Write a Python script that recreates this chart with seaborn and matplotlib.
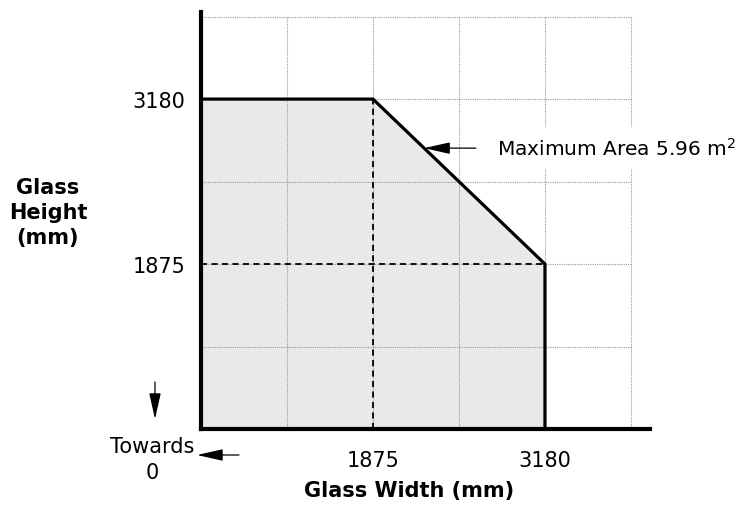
import numpy as np
import matplotlib
matplotlib.use("Agg")
import matplotlib.pyplot as plt
import seaborn as sns

# ---- data (mm) ----
axis_origin = 570.0          # schematic axis start ("towards 0")
grid_step = 652.5            # size of one grid cell in mm
grid_cells = 5
outline_width = [570, 1875, 3180, 3180]
outline_height = [3180, 3180, 1875, 570]
fill_width = [570, 570, 1875, 3180, 3180]
fill_height = [570, 3180, 3180, 1875, 570]
tick_values = [1875, 3180]
tick_labels = ["1875", "3180"]
max_area_label = "Maximum Area 5.96 m$^2$"
arrow_point = (2263, 2792)

sns.set_theme(style="white")
plt.rcParams["font.family"] = ["DejaVu Sans"]
plt.rcParams["text.color"] = "black"
plt.rcParams["axes.labelcolor"] = "black"

W, H = 744, 510
fig = plt.figure(figsize=(W / 100, H / 100), dpi=100)
ax = fig.add_axes([201 / W, 80 / H, 449 / W, 417 / H])
ax.set_facecolor("white")

grid_end = axis_origin + grid_step * grid_cells
ax.set_xlim(axis_origin, 3977)
ax.set_ylim(axis_origin, 3869)

# filled region
ax.fill(fill_width, fill_height, color="#e9e9e9", zorder=1, lw=0)

# grid (dotted)
gl = np.arange(1, grid_cells + 1) * grid_step + axis_origin
ax.vlines(gl, axis_origin, grid_end, colors="#999999", linestyles=(0, (1, 1)), lw=0.8, zorder=2)
ax.hlines(gl, axis_origin, grid_end, colors="#999999", linestyles=(0, (1, 1)), lw=0.8, zorder=2)

# dashed reference lines
ax.plot([tick_values[0], tick_values[0]], [axis_origin, tick_values[1]], color="black",
        lw=1.3, linestyle=(0, (3.4, 2.4)), zorder=3)
ax.plot([axis_origin, tick_values[1]], [tick_values[0], tick_values[0]], color="black",
        lw=1.3, linestyle=(0, (3.4, 2.4)), zorder=3)

# outline
sns.lineplot(x=outline_width, y=outline_height, sort=False, estimator=None,
             color="black", lw=2.3, ax=ax, zorder=4)
ax.lines[-1].set_solid_joinstyle("miter")

# spines
for s in ["top", "right"]:
    ax.spines[s].set_visible(False)
for s in ["left", "bottom"]:
    ax.spines[s].set_visible(True)
    ax.spines[s].set_linewidth(3)
    ax.spines[s].set_color("black")
    ax.spines[s].set_zorder(5)

ax.set_xticks(tick_values)
ax.set_xticklabels(tick_labels)
ax.set_yticks(tick_values)
ax.set_yticklabels(tick_labels)
ax.tick_params(axis="both", length=0, labelsize=15, colors="black", labelcolor="black")
ax.tick_params(axis="x", pad=15)
ax.tick_params(axis="y", pad=11)
ax.grid(False)

arrow_kw = dict(arrowstyle="-|>,head_length=1.6,head_width=0.36", color="black",
                lw=0.9, shrinkA=0, shrinkB=0, mutation_scale=10)

# maximum area annotation
ax.annotate("", xy=arrow_point, xytext=(2656, arrow_point[1]),
            arrowprops=arrow_kw, zorder=6)
ax.text(2816, arrow_point[1], max_area_label, ha="left", va="center", fontsize=14.5,
        color="black", zorder=6,
        bbox=dict(boxstyle="square,pad=0.5", fc="white", ec="none"))

# axis titles
fig.text(48 / W, 1 - 213 / H, "Glass\nHeight\n(mm)", ha="center", va="center",
         fontsize=15, fontweight="bold", linespacing=1.3, color="black")
fig.text(409 / W, 1 - 491 / H, "Glass Width (mm)", ha="center", va="center",
         fontsize=15, fontweight="bold", color="black")

# "Towards 0" note with arrows
fig.text(152.5 / W, 1 - 460 / H, "Towards\n0", ha="center", va="center",
         fontsize=15, linespacing=1.35, color="black")
ax.annotate("", xy=(155, H - 420), xytext=(155, H - 383), xycoords="figure pixels",
            textcoords="figure pixels", arrowprops=arrow_kw, annotation_clip=False)
ax.annotate("", xy=(197, H - 456), xytext=(239, H - 456), xycoords="figure pixels",
            textcoords="figure pixels", arrowprops=arrow_kw, annotation_clip=False)

fig.savefig("out.png", dpi=100, facecolor="white")
